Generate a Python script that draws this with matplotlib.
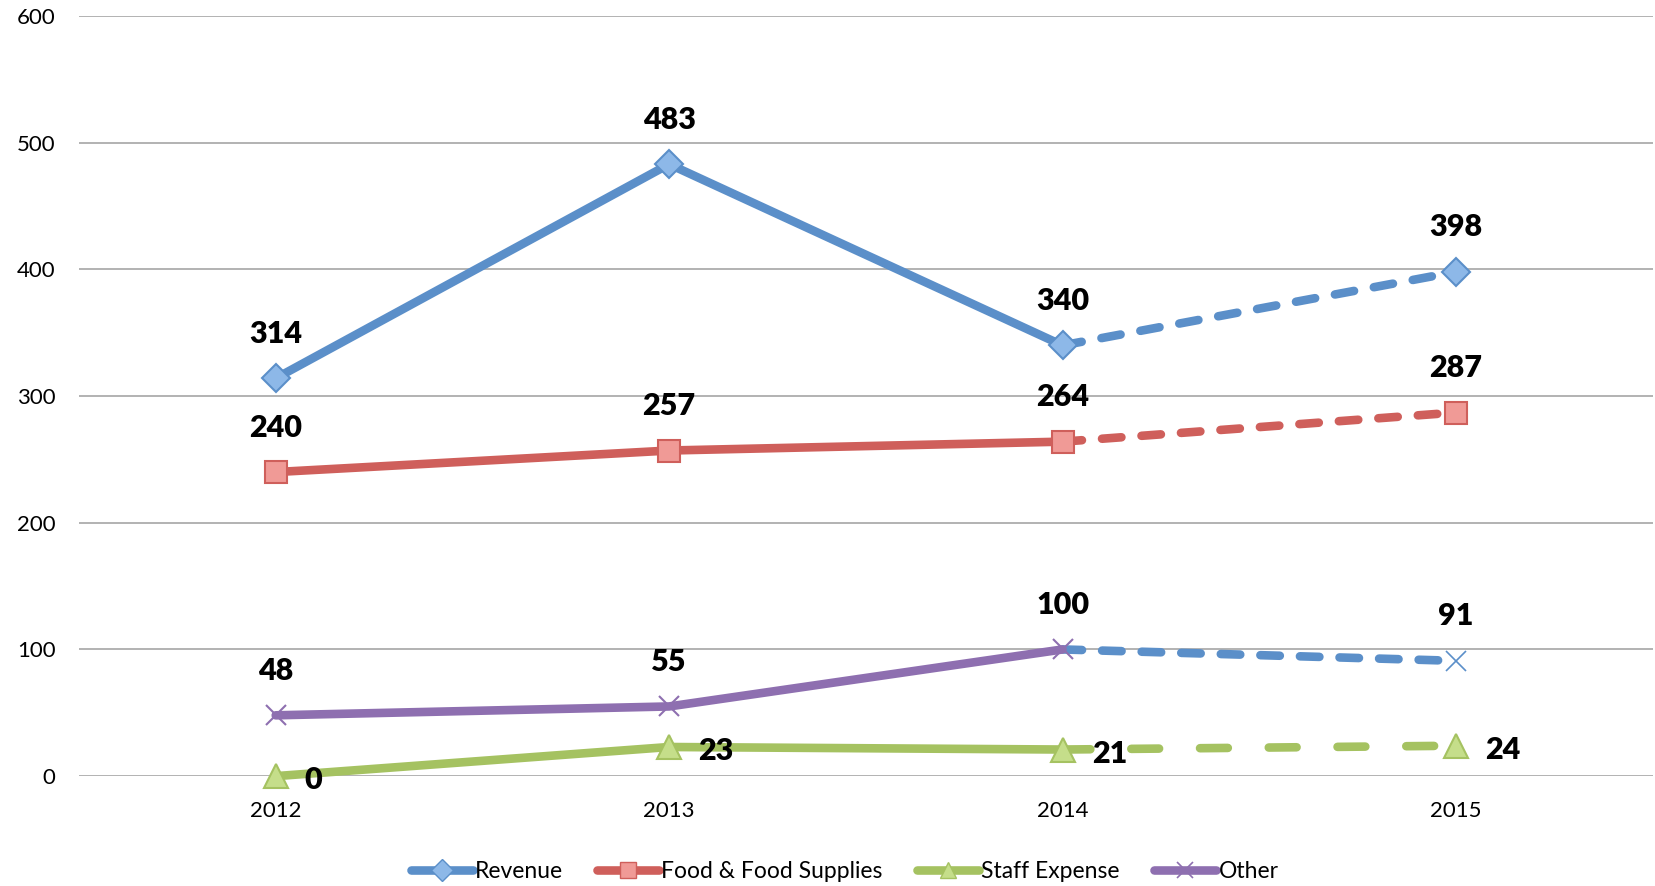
import matplotlib.pyplot as plt
from matplotlib.lines import Line2D
import numpy as np

plt.rcParams['font.family'] = ['Lato', 'DejaVu Sans']
plt.rcParams['lines.scale_dashes'] = False

years = ["2012", "2013", "2014", "2015"]
revenue = [314, 483, 340, 398]
food = [240, 257, 264, 287]
staff = [0, 23, 21, 24]
other = [48, 55, 100, 91]

# name, values, line colour, marker, marker face, dash colour, dash pattern
series = [
    ("Revenue", revenue, "#5B8FC9", "D", "#8DB8E8", "#5B8FC9", (14, 14.5)),
    ("Food & Food Supplies", food, "#CF5F5B", "s", "#F09A96", "#CF5F5B", (14, 14.5)),
    ("Staff Expense", staff, "#A5C261", "^", "#C5DE8A", "#A5C261", (20, 29.5)),
    ("Other", other, "#8E6FB0", "x", "#8E6FB0", "#5B8FC9", (14, 14.5)),
]
msize = {"D": 14, "s": 16, "^": 17, "x": 15}
LW = 6.2

fig = plt.figure(figsize=(16.56, 8.86), dpi=100)
ax = fig.add_axes([0.0477, 0.124, 0.9503, 0.858])

x = np.arange(len(years))

for name, vals, col, mk, face, dcol, dash in series:
    # dashed forecast segment 2014 -> 2015
    ax.plot(x[2:], vals[2:], color=dcol, lw=LW, dashes=dash,
            dash_capstyle="round", solid_capstyle="round", zorder=3, clip_on=False)
    ax.plot(x[:3], vals[:3], color=col, lw=LW, solid_capstyle="round", zorder=3,
            clip_on=False)
    if mk == "x":
        ax.plot(x[:3], vals[:3], ls="none", marker="x", ms=msize[mk],
                mew=1.5, color=col, zorder=4)
        ax.plot(x[3:], vals[3:], ls="none", marker="x", ms=msize[mk],
                mew=1.2, color=dcol, zorder=4)
    else:
        ax.plot(x, vals, ls="none", marker=mk, ms=msize[mk], mfc=face,
                mec=col, mew=1.5, zorder=4, clip_on=False)

    for xi, v in zip(x, vals):
        if name == "Staff Expense":
            ax.annotate(str(v), (xi, v), xytext=(21, -3), textcoords="offset points",
                        ha="left", va="center", fontsize=22, fontweight="heavy", zorder=5)
        else:
            ax.annotate(str(v), (xi, v), xytext=(0, 32), textcoords="offset points",
                        ha="center", va="center", fontsize=22, fontweight="heavy", zorder=5)

ax.set_xlim(-0.5, 3.5)
ax.set_ylim(0, 600)
ax.set_yticks(range(0, 601, 100))
ax.set_xticks(x)
ax.set_xticklabels(years)
ax.grid(axis="y", color="#A6A6A6", lw=1.2)
ax.set_axisbelow(True)
for s in ax.spines.values():
    s.set_visible(False)
ax.tick_params(axis="both", length=0, labelsize=16)
ax.tick_params(axis="y", pad=17)
ax.tick_params(axis="x", pad=18)

handles = []
for name, vals, col, mk, face, dcol, dash in series:
    if mk == "x":
        h = Line2D([], [], color=col, lw=LW, marker="x", ms=11, mew=1.2,
                   mec=col, solid_capstyle="round")
    else:
        h = Line2D([], [], color=col, lw=LW, marker=mk, ms=11, mfc=face,
                   mec=col, mew=1, solid_capstyle="round")
    handles.append(h)

fig.legend(handles, [s[0] for s in series], loc="center", bbox_to_anchor=(0.51, 0.016),
           ncol=4, frameon=False, fontsize=16.5, handlelength=2.7, handletextpad=0.1,
           columnspacing=1.5)

fig.savefig("out.png", dpi=100)
